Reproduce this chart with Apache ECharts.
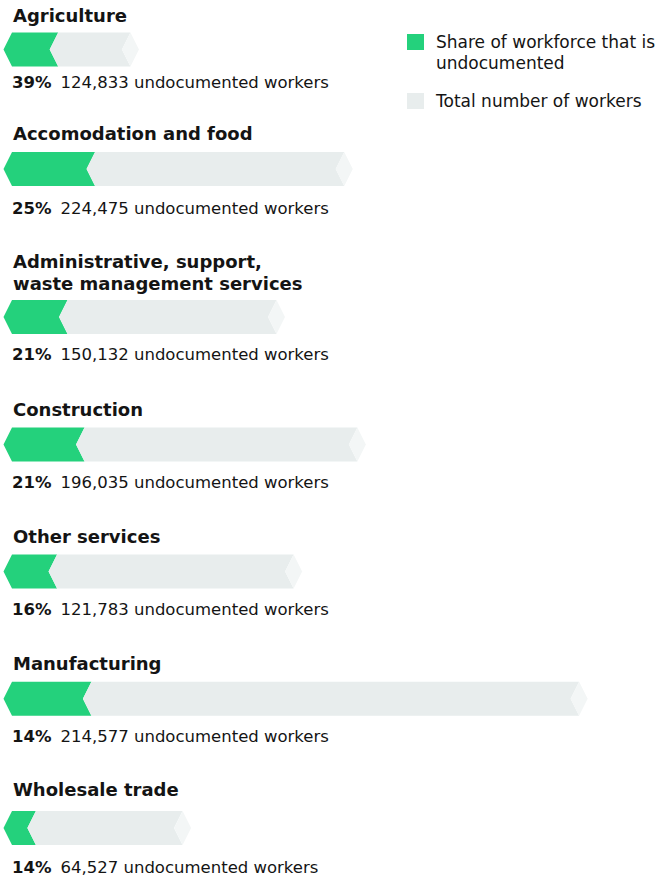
<!DOCTYPE html>
<html>
<head>
<meta charset="utf-8">
<script src="https://cdn.jsdelivr.net/npm/echarts@6/dist/echarts.min.js"></script>
<style>
  html, body { margin: 0; padding: 0; background: #ffffff; }
  #chart { width: 670px; height: 876px; }
</style>
</head>
<body>
<div id="chart"></div>
<script>
// Industries, share of each workforce that is undocumented, and undocumented headcount
const sectors = [
  'Agriculture',
  'Accomodation and food',
  'Administrative, support,\nwaste management services',
  'Construction',
  'Other services',
  'Manufacturing',
  'Wholesale trade'
];
const undocumentedSharePct = [39, 25, 21, 21, 16, 14, 14];
const undocumentedWorkers = [124833, 224475, 150132, 196035, 121783, 214577, 64527];

const legendNames = ['Share of workforce that is undocumented', 'Total number of workers'];

// Page layout: vertical centre of each bar, of each heading's last line, and of each caption
const rowCenterY = [49.5, 169, 317, 444.5, 571.5, 698.7, 828];
const headingY = [15, 133, 283, 409, 536, 663, 789];
const captionY = [81.5, 208, 354, 482, 609, 736, 867];

const FONT = '"DejaVu Sans"';
const INK = '#141414';
const GREEN = '#24d17c';
const GREY = '#e8eded';
const TIP_FILL = '#f3f6f6';
const TIP = 8.5;          // depth of the chevron ends
const BAR_H = 34;
const X_MAX = 1600000;
const HEAD_LH = 22;

// total workforce implied by the undocumented headcount and its share
const totalWorkers = undocumentedWorkers.map((n, i) => n / (undocumentedSharePct[i] / 100));

function undocumentedShape(params, api) {
  const a = api.coord([0, 0]);
  const b = api.coord([api.value(0), 0]);
  const h = api.size([0, 1])[1];
  const cy = a[1], top = cy - h / 2, bot = cy + h / 2;
  return {
    type: 'polygon',
    shape: { points: [[a[0] - TIP, cy], [a[0], top], [b[0], top], [b[0] - TIP, cy], [b[0], bot], [a[0], bot]] },
    style: { fill: api.visual('color') }
  };
}

function totalShape(params, api) {
  const a = api.coord([api.value(0), 0]);
  const b = api.coord([api.value(1), 0]);
  const h = api.size([0, 1])[1];
  const cy = a[1], top = cy - h / 2, bot = cy + h / 2;
  return {
    type: 'group',
    children: [
      {
        type: 'polygon',
        shape: { points: [[a[0] - TIP, cy], [a[0], top], [b[0], top], [b[0] - TIP, cy], [b[0], bot], [a[0], bot]] },
        style: { fill: api.visual('color') }
      },
      {
        type: 'polygon',
        shape: { points: [[b[0] - TIP, cy], [b[0], top], [b[0] + TIP, cy], [b[0], bot]] },
        style: { fill: TIP_FILL }
      }
    ]
  };
}

const grid = [], xAxis = [], yAxis = [], series = [], graphic = [];
sectors.forEach((name, i) => {
  grid.push({ left: 12, width: 592, top: rowCenterY[i] - BAR_H / 2, height: BAR_H });
  xAxis.push({ gridIndex: i, type: 'value', min: 0, max: X_MAX, show: false });
  yAxis.push({ gridIndex: i, type: 'category', data: [name], show: false });
  series.push({
    type: 'custom', name: legendNames[0], xAxisIndex: i, yAxisIndex: i,
    itemStyle: { color: GREEN }, renderItem: undocumentedShape, silent: true,
    encode: { x: 0, y: 1 },
    data: [[undocumentedWorkers[i], 0]]
  });
  series.push({
    type: 'custom', name: legendNames[1], xAxisIndex: i, yAxisIndex: i,
    itemStyle: { color: GREY }, renderItem: totalShape, silent: true,
    encode: { x: [0, 1], y: 2 },
    data: [[undocumentedWorkers[i], totalWorkers[i], 0]]
  });
  const lines = name.split('\n').length;
  graphic.push({
    type: 'text', left: 13, top: headingY[i] - HEAD_LH / 2 - (lines - 1) * HEAD_LH, silent: true,
    style: { text: name, fill: INK, font: 'bold 18px ' + FONT, lineHeight: HEAD_LH }
  });
  graphic.push({
    type: 'text', left: 12, top: captionY[i] - 8, silent: true,
    style: {
      text: '{b|' + undocumentedSharePct[i] + '%}{r|' + undocumentedWorkers[i].toLocaleString('en-US') + ' undocumented workers}',
      rich: {
        b: { fontFamily: FONT, fontSize: 16.5, fontWeight: 'bold', fill: INK, padding: [0, 9, 0, 0], lineHeight: 20 },
        r: { fontFamily: FONT, fontSize: 16.5, fill: INK, lineHeight: 20 }
      }
    }
  });
});

const legendText = { fontFamily: FONT, fontSize: 17, color: INK, lineHeight: 21, padding: [0, 0, 0, 7] };
const option = {
  animation: false,
  grid, xAxis, yAxis, series,
  legend: [
    {
      data: [legendNames[0]], left: 407, top: 10.5, padding: 0, icon: 'rect',
      itemWidth: 17, itemHeight: 16, selectedMode: false, textStyle: legendText,
      formatter: () => '\nShare of workforce that is\nundocumented'
    },
    {
      data: [legendNames[1]], left: 407, top: 90.5, padding: 0, icon: 'rect',
      itemWidth: 17, itemHeight: 16, selectedMode: false, textStyle: legendText
    }
  ],
  graphic
};

const chart = echarts.init(document.getElementById('chart'), null, { renderer: 'svg' });
chart.setOption(option);
</script>
</body>
</html>
